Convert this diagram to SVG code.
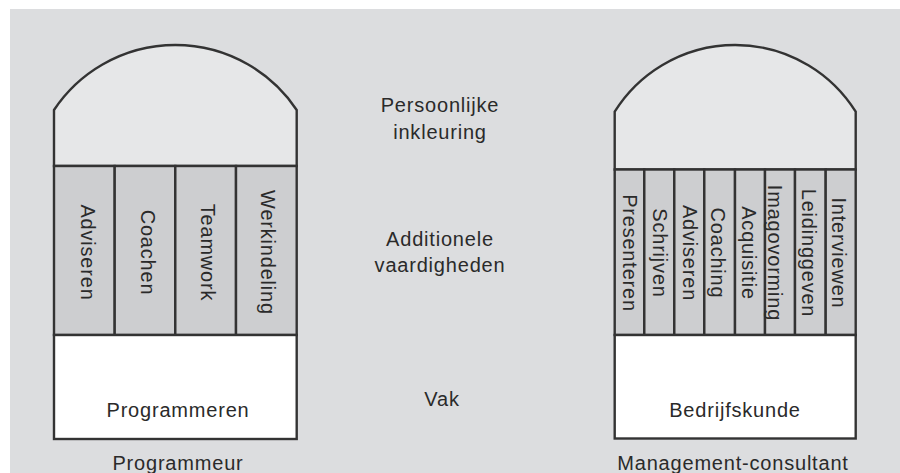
<svg xmlns="http://www.w3.org/2000/svg" width="900" height="473" viewBox="0 0 900 473">
<style>
.bg{fill:#dcdddf}
.dome{fill:#e6e7e8;stroke:#333;stroke-width:2.4}
.col{fill:#cdced0;stroke:#333;stroke-width:2.4}
.vak{fill:#ffffff;stroke:#333;stroke-width:2.4}
text{font-family:"Liberation Sans",Arial,sans-serif;font-size:20px;fill:#2a2a2a;letter-spacing:0.8px}
.c{text-anchor:middle}
</style>
<rect x="0" y="0" width="900" height="473" fill="#ffffff"/>
<rect class="bg" x="10" y="9" width="890" height="464"/>

<g id="programmeur">
  <g id="p-dome"><path class="dome" d="M54,166 V110 A145.8,145.8 0 0 1 296.7,110 V166 Z"/></g>
  <g id="p-adviseren"><rect class="col" x="54" y="166" width="60.7" height="169"/><text class="c" transform="translate(81,252.5) rotate(90)">Adviseren</text></g>
  <g id="p-coachen"><rect class="col" x="114.7" y="166" width="60.6" height="169"/><text class="c" transform="translate(141,252.5) rotate(90)">Coachen</text></g>
  <g id="p-teamwork"><rect class="col" x="175.3" y="166" width="60.7" height="169"/><text class="c" transform="translate(200.5,252.5) rotate(90)">Teamwork</text></g>
  <g id="p-werkindeling"><rect class="col" x="236" y="166" width="60.7" height="169"/><text class="c" transform="translate(260.5,252.5) rotate(90)">Werkindeling</text></g>
  <g id="p-vak"><rect class="vak" x="54" y="335" width="242.7" height="104"/><text class="c" x="178" y="416.7">Programmeren</text></g>
  <text class="c" x="178" y="470">Programmeur</text>
</g>

<g id="labels">
  <text class="c" x="440" y="112.3">Persoonlijke</text>
  <text class="c" x="440" y="139">inkleuring</text>
  <text class="c" x="440" y="246">Additionele</text>
  <text class="c" x="440" y="272.3">vaardigheden</text>
  <text class="c" x="442" y="405.7">Vak</text>
</g>

<g id="management-consultant">
  <g id="m-dome"><path class="dome" d="M614.7,169.5 V111.7 A142.2,142.2 0 0 1 855.7,111.7 V169.5 Z"/></g>
  <g id="m-presenteren"><rect class="col" x="614.7" y="169.5" width="29.6" height="165.5"/><text class="c" transform="translate(622.7,253) rotate(90)">Presenteren</text></g>
  <g id="m-schrijven"><rect class="col" x="644.3" y="169.5" width="30" height="165.5"/><text class="c" transform="translate(653,253) rotate(90)">Schrijven</text></g>
  <g id="m-adviseren"><rect class="col" x="674.3" y="169.5" width="30" height="165.5"/><text class="c" transform="translate(682.7,253) rotate(90)">Adviseren</text></g>
  <g id="m-coaching"><rect class="col" x="704.3" y="169.5" width="30.7" height="165.5"/><text class="c" transform="translate(711,253) rotate(90)">Coaching</text></g>
  <g id="m-acquisitie"><rect class="col" x="735" y="169.5" width="30" height="165.5"/><text class="c" transform="translate(742.3,253) rotate(90)">Acquisitie</text></g>
  <g id="m-imagovorming"><rect class="col" x="765" y="169.5" width="30" height="165.5"/><text class="c" transform="translate(767.5,253) rotate(90)">Imagovorming</text></g>
  <g id="m-leidinggeven"><rect class="col" x="795" y="169.5" width="30.7" height="165.5"/><text class="c" transform="translate(802,253) rotate(90)">Leidinggeven</text></g>
  <g id="m-interviewen"><rect class="col" x="825.7" y="169.5" width="30" height="165.5"/><text class="c" transform="translate(832,253) rotate(90)">Interviewen</text></g>
  <g id="m-vak"><rect class="vak" x="614.7" y="335" width="241" height="103.5"/><text class="c" x="735" y="416.7">Bedrijfskunde</text></g>
  <text class="c" x="733" y="469.5">Management-consultant</text>
</g>
</svg>
